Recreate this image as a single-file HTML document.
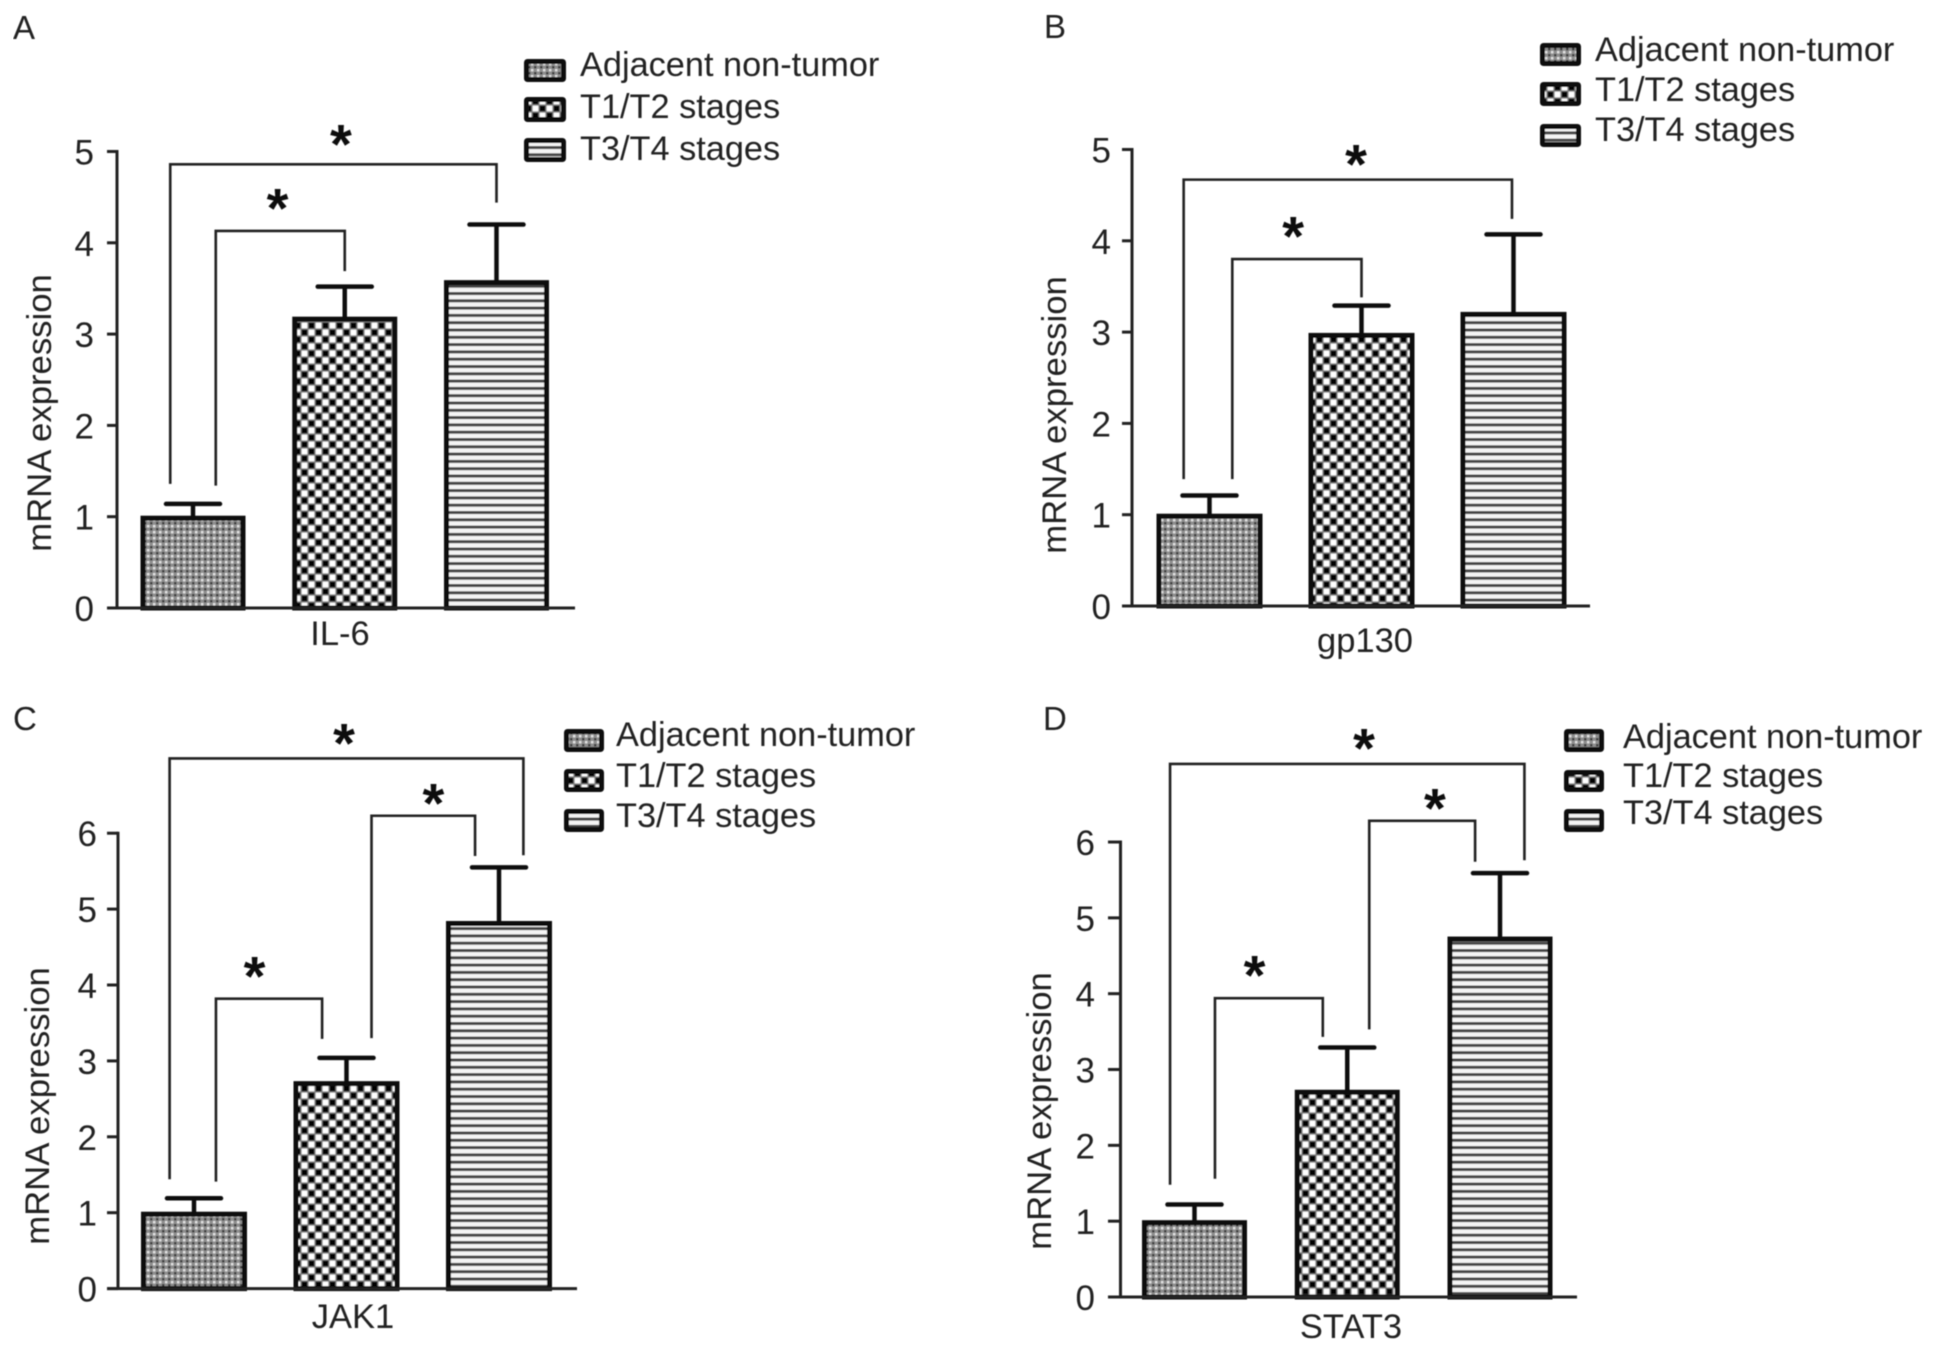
<!DOCTYPE html>
<html lang="en">
<head>
<meta charset="utf-8">
<title>mRNA expression by tumor stage</title>
<style>
html,body{margin:0;padding:0;background:#fff;}
svg{display:block;}
text{font-family:"Liberation Sans",sans-serif;fill:#222;}
</style>
</head>
<body>
<svg id="figure" xmlns="http://www.w3.org/2000/svg" width="1935" height="1352" viewBox="0 0 1935 1352">
  <defs>
    <filter id="soften" x="0" y="0" width="100%" height="100%"><feGaussianBlur stdDeviation="0.55"/></filter>
    <pattern id="pat-adjacent" patternUnits="userSpaceOnUse" width="6" height="6">
      <rect width="6" height="6" fill="#8e8e8e"/>
      <rect x="0" y="0" width="2.4" height="2.4" fill="#3c3c3c"/>
      <rect x="3" y="3" width="2.4" height="2.4" fill="#e2e2e2"/>
    </pattern>
    <pattern id="pat-early" patternUnits="userSpaceOnUse" width="14" height="14">
      <rect width="14" height="14" fill="#808080"/>
      <rect x="0.7" y="0.7" width="5.6" height="5.6" fill="#050505"/>
      <rect x="7.7" y="7.7" width="5.6" height="5.6" fill="#050505"/>
      <rect x="7.7" y="0.7" width="5.6" height="5.6" fill="#fff"/>
      <rect x="0.7" y="7.7" width="5.6" height="5.6" fill="#fff"/>
    </pattern>
    <pattern id="pat-late" patternUnits="userSpaceOnUse" width="10" height="7.3">
      <rect width="10" height="7.3" fill="#f4f4f4"/>
      <rect x="0" y="0" width="10" height="3" fill="#444"/>
    </pattern>
  </defs>
  <g id="root" filter="url(#soften)"></g>
</svg>
<script>
// Shared categories and tick labels
const seriesNames = ['Adjacent non-tumor', 'T1/T2 stages', 'T3/T4 stages'];
const seriesSlugs = ['adjacent-non-tumor', 't1-t2-stages', 't3-t4-stages'];
const seriesPatterns = ['pat-adjacent', 'pat-early', 'pat-late'];
const ticksFive = [0, 1, 2, 3, 4, 5];
const ticksSix = [0, 1, 2, 3, 4, 5, 6];

// Panel A: IL-6
const il6Means = [1.0, 3.18, 3.58];
const il6Errors = [0.14, 0.34, 0.62];
// Panel B: gp130
const gp130Means = [1.0, 2.98, 3.21];
const gp130Errors = [0.21, 0.31, 0.86];
// Panel C: JAK1
const jak1Means = [1.0, 2.72, 4.83];
const jak1Errors = [0.19, 0.32, 0.72];
// Panel D: STAT3
const stat3Means = [1.0, 2.72, 4.74];
const stat3Errors = [0.22, 0.57, 0.85];

// Significance brackets in data units: [x-left, x-right, level, left-foot, right-foot]
const il6Brackets = [[-0.15, 2.0, 4.86, 1.36, 4.44], [0.15, 1.0, 4.13, 1.34, 3.69]];
const gp130Brackets = [[-0.17, 1.99, 4.67, 1.39, 4.24], [0.15, 1.0, 3.80, 1.39, 3.38]];
const jak1Brackets = [[-0.16, 2.16, 6.985, 1.44, 5.71], [0.144, 0.84, 3.82, 1.41, 3.29], [1.164, 1.843, 6.23, 3.30, 5.70]];
const stat3Brackets = [[-0.16, 2.16, 7.03, 1.48, 5.76], [0.134, 0.84, 3.94, 1.56, 3.43], [1.144, 1.837, 6.28, 3.53, 5.74]];

// Significance stars in data units: [x, level]
const il6Stars = [[0.975, 5.16], [0.557, 4.46]];
const gp130Stars = [[0.964, 4.92], [0.55, 4.13]];
const jak1Stars = [[0.984, 7.28], [0.397, 4.21], [1.57, 6.49]];
const stat3Stars = [[1.11, 7.33], [0.393, 4.34], [1.574, 6.54]];

const panels = [
  {id:'a', letter:'A', letterX:13, letterY:39, gene:'IL-6', means:il6Means, errors:il6Errors, ticks:ticksFive, brackets:il6Brackets, stars:il6Stars,
   axisX:117, baseL:107, baseR:575, y0:608, unit:91.3, c0:193, step:151.75, half:52.5,
   tickR:94, titleX:51, titleY:413, geneX:340, geneY:645,
   swatchX:524, swatchW:42, swatchY:[59,97,138], swatchH:[23,25,24], legX:580, legY:[76,118,160]},
  {id:'b', letter:'B', letterX:1044, letterY:38, gene:'gp130', means:gp130Means, errors:gp130Errors, ticks:ticksFive, brackets:gp130Brackets, stars:gp130Stars,
   axisX:1132, baseL:1122, baseR:1590, y0:606, unit:91.3, c0:1209.5, step:152, half:53,
   tickR:1111, titleX:1066, titleY:415, geneX:1365, geneY:652,
   swatchX:1540, swatchW:41, swatchY:[43,82,124], swatchH:[23,24,23], legX:1595, legY:[61,101,141]},
  {id:'c', letter:'C', letterX:13, letterY:730, gene:'JAK1', means:jak1Means, errors:jak1Errors, ticks:ticksSix, brackets:jak1Brackets, stars:jak1Stars,
   axisX:118, baseL:107, baseR:577, y0:1288.6, unit:75.9, c0:194, step:152.5, half:53,
   tickR:97, titleX:49, titleY:1106, geneX:353, geneY:1328,
   swatchX:564, swatchW:40, swatchY:[729,769,809], swatchH:[23,23,23], legX:616, legY:[746,787,827]},
  {id:'d', letter:'D', letterX:1043, letterY:730, gene:'STAT3', means:stat3Means, errors:stat3Errors, ticks:ticksSix, brackets:stat3Brackets, stars:stat3Stars,
   axisX:1120.5, baseL:1108, baseR:1577, y0:1297, unit:75.83, c0:1194.5, step:152.75, half:52.5,
   tickR:1095, titleX:1051, titleY:1111, geneX:1351, geneY:1338,
   swatchX:1564, swatchW:40, swatchY:[729,770,809], swatchH:[23,22,23], legX:1623, legY:[748,787,824]}
];

const NS = 'http://www.w3.org/2000/svg';
const root = document.getElementById('root');

function svgEl(parent, tag, attrs, content) {
  const el = document.createElementNS(NS, tag);
  for (const k in attrs) el.setAttribute(k, attrs[k]);
  if (content !== undefined) el.textContent = content;
  parent.appendChild(el);
  return el;
}

panels.forEach(function (p) {
  const y = function (v) { return p.y0 - v * p.unit; };
  const x = function (i) { return p.c0 + i * p.step; };

  const g = svgEl(root, 'g', {});
  
  

  const letter = svgEl(g, 'text', {x: p.letterX, y: p.letterY, 'font-size': 33}, p.letter);
  
  

  // Bars and error bars
  p.means.forEach(function (m, i) {
    const top = y(m);
    const errTop = y(m + p.errors[i]);
    const stem = svgEl(g, 'line', {x1: x(i), x2: x(i), y1: top, y2: errTop, stroke: '#111', 'stroke-width': 4.5});
    
    
    const cap = svgEl(g, 'line', {x1: x(i) - 27, x2: x(i) + 27, y1: errTop, y2: errTop, stroke: '#111', 'stroke-width': 4.5, 'stroke-linecap': 'round'});
    
    
    const bar = svgEl(g, 'rect', {x: x(i) - p.half + 2.5, y: top + 1.5, width: 2 * p.half - 5, height: y(0) - top - 1.5, fill: 'url(#' + seriesPatterns[i] + ')', stroke: '#111', 'stroke-width': 5});
    
    
  });

  // Axes
  const yTop = y(p.ticks[p.ticks.length - 1]);
  const yAxis = svgEl(g, 'line', {x1: p.axisX, x2: p.axisX, y1: yTop - 1.5, y2: y(0), stroke: '#222', 'stroke-width': 3});
  
  
  const xAxis = svgEl(g, 'line', {x1: p.baseL, x2: p.baseR, y1: y(0), y2: y(0), stroke: '#222', 'stroke-width': 3});
  
  

  p.ticks.forEach(function (t) {
    const tick = svgEl(g, 'line', {x1: p.baseL, x2: p.axisX, y1: y(t), y2: y(t), stroke: '#222', 'stroke-width': 3});
    
    
    const lab = svgEl(g, 'text', {x: p.tickR, y: y(t) + 13, 'font-size': 35, 'text-anchor': 'end'}, String(t));
    
    
  });

  const title = svgEl(g, 'text', {x: 0, y: 0, 'font-size': 34.7, 'text-anchor': 'middle', transform: 'translate(' + p.titleX + ' ' + p.titleY + ') rotate(-90)'}, 'mRNA expression');
  
  

  const gene = svgEl(g, 'text', {x: p.geneX, y: p.geneY, 'font-size': 34.5, 'text-anchor': 'middle'}, p.gene);
  
  

  // Significance brackets
  p.brackets.forEach(function (b, i) {
    const d = 'M' + x(b[0]) + ' ' + y(b[3]) + 'V' + y(b[2]) + 'H' + x(b[1]) + 'V' + y(b[4]);
    const path = svgEl(g, 'path', {d: d, fill: 'none', stroke: '#222', 'stroke-width': 2.6});
    
    
  });
  p.stars.forEach(function (s, i) {
    const star = svgEl(g, 'text', {x: x(s[0]), y: y(s[1]) + 26.5, 'font-size': 56, 'font-weight': 'bold', 'text-anchor': 'middle'}, '*');
    
    
    star.style.fill = '#111';
  });

  // Legend
  const legend = svgEl(g, 'g', {});
  
  
  seriesNames.forEach(function (name, i) {
    const sw = svgEl(legend, 'rect', {x: p.swatchX + 2.5, y: p.swatchY[i] + 2.5, width: p.swatchW - 5, height: p.swatchH[i] - 5, rx: 1, fill: 'url(#' + seriesPatterns[i] + ')', stroke: '#111', 'stroke-width': 5});
    
    
    const t = svgEl(legend, 'text', {x: p.legX, y: p.legY[i], 'font-size': 34.3}, name);
    
    
  });
});
</script>
</body>
</html>
